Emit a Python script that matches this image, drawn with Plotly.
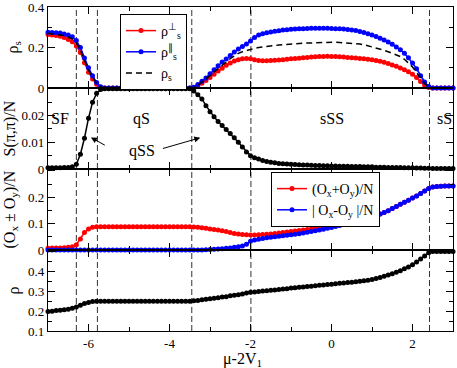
import plotly.graph_objects as go
from plotly.subplots import make_subplots

# ---------------- data ----------------
mu = [-7.0, -6.9, -6.8, -6.7, -6.6, -6.5, -6.4, -6.3, -6.2, -6.1,
      -6.0, -5.9, -5.8, -5.7, -5.6, -5.5, -5.4, -5.3, -5.2, -5.1,
      -5.0, -4.9, -4.8, -4.7, -4.6, -4.5, -4.4, -4.3, -4.2, -4.1,
      -4.0, -3.9, -3.8, -3.7, -3.6, -3.5, -3.4, -3.3, -3.2, -3.1,
      -3.0, -2.9, -2.8, -2.7, -2.6, -2.5, -2.4, -2.3, -2.2, -2.1,
      -2.0, -1.9, -1.8, -1.7, -1.6, -1.5, -1.4, -1.3, -1.2, -1.1,
      -1.0, -0.9, -0.8, -0.7, -0.6, -0.5, -0.4, -0.3, -0.2, -0.1,
      0.0, 0.1, 0.2, 0.3, 0.4, 0.5, 0.6, 0.7, 0.8, 0.9,
      1.0, 1.1, 1.2, 1.3, 1.4, 1.5, 1.6, 1.7, 1.8, 1.9,
      2.0, 2.1, 2.2, 2.3, 2.4, 2.5, 2.6, 2.7, 2.8, 2.9,
      3.0]

rho_perp = [0.264, 0.262, 0.259, 0.256, 0.249, 0.240, 0.229, 0.208, 0.175, 0.125,
            0.078, 0.045, 0.019, 0.004, 0.0, 0.0, 0.0, 0.0, 0.0, 0.0,
            0.0, 0.0, 0.0, 0.0, 0.0, 0.0, 0.0, 0.0, 0.0, 0.0,
            0.0, 0.0, 0.0, 0.0, 0.0, 0.0, 0.003, 0.011, 0.024, 0.037,
            0.052, 0.068, 0.084, 0.098, 0.112, 0.124, 0.133, 0.140, 0.144, 0.146,
            0.145, 0.139, 0.136, 0.135, 0.135, 0.136, 0.137, 0.138, 0.140, 0.142,
            0.144, 0.146, 0.147, 0.149, 0.151, 0.153, 0.154, 0.155, 0.156, 0.157,
            0.156, 0.155, 0.154, 0.153, 0.151, 0.150, 0.148, 0.146, 0.144, 0.142,
            0.139, 0.136, 0.132, 0.127, 0.121, 0.114, 0.107, 0.099, 0.090, 0.080,
            0.068, 0.052, 0.032, 0.014, 0.003, 0.0, 0.0, 0.0, 0.0, 0.0,
            0.0]

rho_par = [0.275, 0.274, 0.273, 0.271, 0.267, 0.262, 0.253, 0.234, 0.200, 0.148,
           0.100, 0.061, 0.027, 0.006, 0.0, 0.0, 0.0, 0.0, 0.0, 0.0,
           0.0, 0.0, 0.0, 0.0, 0.0, 0.0, 0.0, 0.0, 0.0, 0.0,
           0.0, 0.0, 0.0, 0.0, 0.0, 0.0, 0.004, 0.017, 0.033, 0.050,
           0.070, 0.090, 0.110, 0.128, 0.143, 0.161, 0.178, 0.193, 0.205, 0.217,
           0.232, 0.250, 0.262, 0.268, 0.273, 0.277, 0.280, 0.283, 0.286, 0.288,
           0.290, 0.291, 0.292, 0.293, 0.294, 0.295, 0.295, 0.295, 0.295, 0.295,
           0.294, 0.293, 0.292, 0.291, 0.289, 0.287, 0.284, 0.279, 0.274, 0.268,
           0.262, 0.254, 0.246, 0.237, 0.227, 0.216, 0.203, 0.189, 0.172, 0.150,
           0.123, 0.095, 0.060, 0.030, 0.007, 0.0, 0.0, 0.0, 0.0, 0.0,
           0.0]

rho_s = [0.270, 0.268, 0.266, 0.264, 0.259, 0.252, 0.242, 0.222, 0.188, 0.137,
         0.089, 0.053, 0.023, 0.005, 0.0, 0.0, 0.0, 0.0, 0.0, 0.0,
         0.0, 0.0, 0.0, 0.0, 0.0, 0.0, 0.0, 0.0, 0.0, 0.0,
         0.0, 0.0, 0.0, 0.0, 0.0, 0.0, 0.003, 0.014, 0.029, 0.044,
         0.061, 0.079, 0.097, 0.113, 0.128, 0.145, 0.158, 0.171, 0.179, 0.186,
         0.191, 0.196, 0.200, 0.203, 0.205, 0.207, 0.209, 0.212, 0.214, 0.216,
         0.218, 0.219, 0.220, 0.221, 0.222, 0.223, 0.224, 0.225, 0.226, 0.226,
         0.226, 0.226, 0.225, 0.224, 0.223, 0.222, 0.220, 0.217, 0.214, 0.209,
         0.202, 0.197, 0.192, 0.186, 0.179, 0.172, 0.164, 0.155, 0.142, 0.125,
         0.104, 0.077, 0.047, 0.022, 0.005, 0.0, 0.0, 0.0, 0.0, 0.0,
         0.0]

s_pipi = [0.0005, 0.0005, 0.0005, 0.0005, 0.0006, 0.0006, 0.0008, 0.0018, 0.0055, 0.0115,
          0.0190, 0.0250, 0.0283, 0.0297, 0.0300, 0.0300, 0.0300, 0.0300, 0.0300, 0.0300,
          0.0300, 0.0300, 0.0300, 0.0300, 0.0300, 0.0300, 0.0300, 0.0300, 0.0300, 0.0300,
          0.0300, 0.0300, 0.0300, 0.0300, 0.0300, 0.0300, 0.0292, 0.0278, 0.0262, 0.0237,
          0.0214, 0.0195, 0.0178, 0.0163, 0.0148, 0.0133, 0.0117, 0.0100, 0.0082, 0.0064,
          0.0050, 0.0042, 0.0037, 0.0032, 0.0028, 0.0025, 0.0023, 0.0021, 0.0020, 0.0019,
          0.0018, 0.0017, 0.0016, 0.0015, 0.0015, 0.0014, 0.0013, 0.0013, 0.0012, 0.0012,
          0.0011, 0.0011, 0.0010, 0.0010, 0.0010, 0.0009, 0.0009, 0.0009, 0.0008, 0.0008,
          0.0008, 0.0007, 0.0007, 0.0007, 0.0006, 0.0006, 0.0006, 0.0006, 0.0005, 0.0005,
          0.0005, 0.0004, 0.0004, 0.0003, 0.0003, 0.0002, 0.0002, 0.0002, 0.0002, 0.0002,
          0.0002]

o_sum = [0.007, 0.008, 0.008, 0.008, 0.009, 0.010, 0.012, 0.020, 0.042, 0.066,
         0.080, 0.086, 0.088, 0.088, 0.088, 0.088, 0.088, 0.088, 0.088, 0.088,
         0.088, 0.088, 0.088, 0.088, 0.088, 0.088, 0.088, 0.088, 0.088, 0.088,
         0.088, 0.088, 0.088, 0.088, 0.088, 0.088, 0.087, 0.086, 0.084, 0.082,
         0.080, 0.078, 0.076, 0.073, 0.070, 0.066, 0.063, 0.061, 0.059, 0.058,
         0.057, 0.057, 0.058, 0.059, 0.060, 0.061, 0.063, 0.064, 0.066, 0.068,
         0.070, 0.072, 0.074, 0.076, 0.078, 0.080, 0.083, 0.085, 0.088, 0.090,
         0.092, 0.095, 0.097, 0.100, 0.102, 0.105, 0.109, 0.113, 0.117, 0.121,
         0.125, 0.130, 0.136, 0.142, 0.149, 0.157, 0.165, 0.173, 0.181, 0.189,
         0.197, 0.205, 0.214, 0.224, 0.233, 0.239, 0.241, 0.242, 0.243, 0.243,
         0.243]

o_diff = [0.0, 0.0, 0.0, 0.0, 0.0, 0.0, 0.0, 0.0, 0.0, 0.0,
          0.0, 0.0, 0.0, 0.0, 0.0, 0.0, 0.0, 0.0, 0.0, 0.0,
          0.0, 0.0, 0.0, 0.0, 0.0, 0.0, 0.0, 0.0, 0.0, 0.0,
          0.0, 0.0, 0.0, 0.0, 0.0, 0.0, 0.0, 0.0, 0.0, 0.001,
          0.002, 0.003, 0.004, 0.005, 0.007, 0.008, 0.010, 0.012, 0.015, 0.022,
          0.033, 0.038, 0.041, 0.044, 0.046, 0.048, 0.050, 0.052, 0.054, 0.056,
          0.058, 0.060, 0.062, 0.064, 0.067, 0.070, 0.073, 0.076, 0.079, 0.082,
          0.085, 0.089, 0.093, 0.097, 0.101, 0.105, 0.109, 0.113, 0.117, 0.121,
          0.125, 0.130, 0.136, 0.142, 0.149, 0.157, 0.165, 0.173, 0.181, 0.189,
          0.197, 0.205, 0.214, 0.224, 0.233, 0.239, 0.241, 0.242, 0.243, 0.243,
          0.243]

rho = [0.198, 0.200, 0.203, 0.205, 0.207, 0.210, 0.214, 0.221, 0.230, 0.238,
       0.244, 0.248, 0.250, 0.250, 0.250, 0.250, 0.250, 0.250, 0.250, 0.250,
       0.250, 0.250, 0.250, 0.250, 0.250, 0.250, 0.250, 0.250, 0.250, 0.250,
       0.250, 0.250, 0.250, 0.250, 0.250, 0.250, 0.252, 0.254, 0.257, 0.260,
       0.263, 0.265, 0.268, 0.271, 0.273, 0.277, 0.280, 0.283, 0.287, 0.291,
       0.295, 0.297, 0.299, 0.301, 0.303, 0.305, 0.307, 0.309, 0.311, 0.313,
       0.316, 0.318, 0.320, 0.322, 0.324, 0.326, 0.328, 0.330, 0.332, 0.334,
       0.336, 0.338, 0.340, 0.342, 0.344, 0.346, 0.348, 0.350, 0.353, 0.356,
       0.360, 0.365, 0.370, 0.376, 0.382, 0.389, 0.396, 0.404, 0.413, 0.423,
       0.434, 0.448, 0.463, 0.478, 0.494, 0.500, 0.500, 0.500, 0.500, 0.500,
       0.500]

phase_bounds = [-6.30, -5.78, -3.45, -1.99, 2.42]
x_ticks = [-6, -4, -2, 0, 2]
x_minor = [-5, -3, -1, 1]

# ---------------- figure ----------------
FONT = "Liberation Serif, Times New Roman, serif"
RED, BLUE, BLACK = "#ff0000", "#0000ff", "#000000"

fig = make_subplots(rows=4, cols=1, shared_xaxes=True, vertical_spacing=0)


def pts(y, name, color, row, legend=None):
    fig.add_trace(go.Scatter(
        x=mu, y=y, name=name, mode="lines+markers",
        line=dict(color=color, width=1.5),
        marker=dict(color=color, size=5),
        cliponaxis=False,
        showlegend=legend is not None,
        legend=legend if legend else "legend",
    ), row=row, col=1)


pts(rho_perp, "ρ<sup>⊥</sup><sub>s</sub>", RED, 1, "legend")
pts(rho_par, "ρ<sup>∥</sup><sub>s</sub>", BLUE, 1, "legend")
fig.add_trace(go.Scatter(
    x=mu, y=rho_s, name="ρ<sub>s</sub>", mode="lines",
    line=dict(color=BLACK, width=1.5, dash="6px,4px"),
    legend="legend", showlegend=True), row=1, col=1)
pts(s_pipi, "S", BLACK, 2)
pts(o_sum, "(O<sub>x</sub>+O<sub>y</sub>)/N", RED, 3, "legend2")
pts(o_diff, "| O<sub>x</sub>-O<sub>y</sub> |/N", BLUE, 3, "legend2")
pts(rho, "rho", BLACK, 4)

axis_common = dict(showline=True, linecolor="black", linewidth=1.2, mirror="ticks",
                   ticks="inside", ticklen=7, tickwidth=1, tickcolor="black",
                   showgrid=False, zeroline=False, automargin=False,
                   ticklabeloverflow="allow",
                   tickfont=dict(family=FONT, size=13, color="black"))

for i in range(1, 5):
    fig.update_layout({f"xaxis{'' if i == 1 else i}": dict(
        range=[-7, 3], tickmode="array", tickvals=x_ticks,
        ticktext=[str(v) for v in x_ticks], showticklabels=(i == 4),
        ticklabelstandoff=0,
        minor=dict(tickmode="array", tickvals=x_minor, ticks="inside",
                   ticklen=4, tickcolor="black"),
        **axis_common)})

y_specs = [
    ([0, 0.4], [0, 0.2, 0.4], ["0", "0.2", "0.4"], [0.1, 0.3]),
    ([0, 0.0303], [0, 0.01, 0.02], ["0", "0.01", "0.02"], [0.005, 0.015, 0.025]),
    ([0, 0.307], [0, 0.1, 0.2, 0.3], ["0", "0.1", "0.2", ""], [0.05, 0.15, 0.25]),
    ([0.1, 0.508], [0.1, 0.2, 0.3, 0.4, 0.5], ["0.1", "0.2", "0.3", "0.4", ""],
     [0.15, 0.25, 0.35, 0.45]),
]
for i, (rng, tv, tt, mv) in enumerate(y_specs, start=1):
    fig.update_layout({f"yaxis{'' if i == 1 else i}": dict(
        range=rng, tickmode="array", tickvals=tv, ticktext=tt,
        minor=dict(tickmode="array", tickvals=mv, ticks="inside",
                   ticklen=4, tickcolor="black"),
        **axis_common)})

for xb in phase_bounds:
    fig.add_shape(type="line", xref="x", yref="paper", x0=xb, x1=xb, y0=0, y1=1,
                  line=dict(color="#333333", width=1, dash="6px,3px"), layer="below")

ann_font = dict(family=FONT, size=16, color="black")
annotations = []
for txt, xv, anchor in [("SF", -6.70, "center"), ("qS", -4.68, "center"),
                        ("sSS", 0.0, "center"), ("sS", 2.56, "left")]:
    annotations.append(dict(x=xv, y=0.0188, xref="x2", yref="y2", text=txt,
                            showarrow=False, font=ann_font, xanchor=anchor))
annotations.append(dict(x=-4.68, y=0.0068, xref="x2", yref="y2", text="qSS",
                        showarrow=False, font=ann_font))
for hx, hy, tx, ty in [(-5.94, 0.0118, -5.56, 0.0086), (-3.24, 0.0117, -4.2, 0.0075)]:
    annotations.append(dict(x=hx, y=hy, ax=tx, ay=ty, xref="x2", yref="y2",
                            axref="x2", ayref="y2", text="", showarrow=True,
                            arrowhead=2, arrowsize=1.2, arrowwidth=1, arrowcolor="black"))

# y-axis titles
for txt, yc, xpx in [("ρ<sub>s</sub>", 0.875, 13), ("S(π,π)/N", 0.625, 9),
                     ("(O<sub>x</sub> ± O<sub>y</sub>)/N", 0.375, 10), ("ρ", 0.125, 13)]:
    annotations.append(dict(x=(xpx - 48) / 405, y=yc, xref="paper", yref="paper",
                            text=txt, textangle=-90, showarrow=False,
                            xanchor="center", yanchor="middle",
                            font=dict(family=FONT, size=16, color="black")))
# x-axis title
annotations.append(dict(x=-2.2, y=-0.088, xref="x4", yref="paper",
                        text="μ-2V<sub>1</sub>", showarrow=False,
                        xanchor="center", yanchor="middle",
                        font=dict(family=FONT, size=16, color="black")))

legend_common = dict(xanchor="left", yanchor="top", bgcolor="white",
                     bordercolor="black", borderwidth=1, itemwidth=30,
                     tracegroupgap=0, font=dict(family=FONT, size=14, color="black"))

fig.update_layout(
    width=457, height=368,
    margin=dict(l=48, r=4, t=7, b=37, autoexpand=False),
    plot_bgcolor="white", paper_bgcolor="white",
    font=dict(family=FONT, color="black"),
    annotations=annotations,
    showlegend=True,
    legend=dict(x=(120 - 48) / 405, y=1 - (14 - 7) / 324, **legend_common),
    legend2=dict(x=(271 - 48) / 405, y=1 - (172 - 7) / 324, **legend_common),
)

fig.write_html("out.html", config={"displayModeBar": False},
               post_script="document.body.style.margin='0';")
